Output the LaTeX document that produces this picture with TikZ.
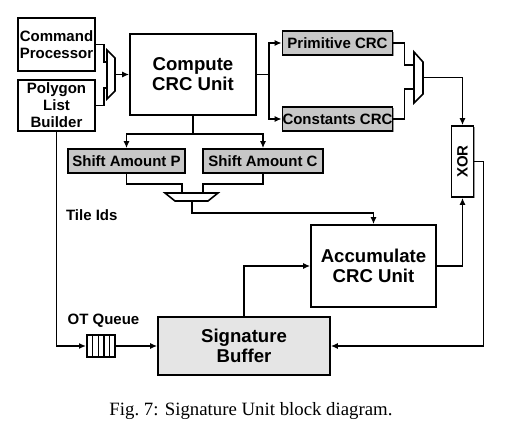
\documentclass[tikz,border=0pt]{standalone}
\usepackage{fontspec}
\setmainfont{Liberation Serif}
\setsansfont{Liberation Sans}
\usetikzlibrary{arrows.meta,shadows}
\newcommand*{\bigf}{\fontsize{9.3}{10}\selectfont\sffamily\bfseries}
\newcommand*{\smf}{\fontsize{7.5}{8.5}\selectfont\sffamily\bfseries}

\begin{document}
\begin{tikzpicture}[x=0.5pt,y=-0.5pt,
  blk/.style={draw,line width=0.8pt,fill=white,align=center,inner sep=0pt,
    drop shadow={shadow xshift=0.6pt,shadow yshift=-0.6pt,fill=black!40,opacity=1}},
  grayblk/.style={blk,fill=black!22},
  wire/.style={line width=0.8pt},
  conn/.style={wire,-{Latex[length=3.5pt,width=3pt]}}]
\useasboundingbox (0,0) rectangle (509,428);

% blocks
\node[blk,font=\smf,minimum width=38.5pt,minimum height=26.5pt] (cmd) at (56.5,44.5) {Command\\Processor};
\node[blk,font=\smf,minimum width=38.5pt,minimum height=25.5pt] (plb) at (56.5,105.5) {Polygon\\List\\Builder};
\node[blk,font=\bigf,minimum width=63pt,minimum height=40.5pt] (ccu) at (193,74.5) {Compute\\CRC Unit};
\node[grayblk,font=\smf,minimum width=55pt,minimum height=12pt] (prim) at (337.5,43) {Primitive CRC};
\node[grayblk,font=\smf,minimum width=55pt,minimum height=12pt] (cons) at (337.5,119) {Constants CRC};
\node[grayblk,font=\smf,minimum width=58.5pt,minimum height=12pt] (shp) at (126.5,161) {Shift Amount P};
\node[grayblk,font=\smf,minimum width=60pt,minimum height=12pt] (shc) at (263,161) {Shift Amount C};
\node[blk,font=\bigf,minimum width=62.5pt,minimum height=41pt] (acc) at (373.5,266) {Accumulate\\CRC Unit};
\node[blk,font=\smf,minimum width=11pt,minimum height=35.5pt] (xor) at (462.5,161.5) {\rotatebox{90}{XOR}};
\node[grayblk,fill=black!10,font=\bigf,minimum width=86pt,minimum height=29pt] (sig) at (244,346) {Signature\\Buffer};
\node[draw,line width=0.8pt,minimum width=14.2pt,minimum height=11pt,inner sep=0pt] (queue) at (101,346) {};
\foreach \i in {1,...,4}
  \draw[line width=0.6pt] ({86.8+5.7*\i},335) -- ({86.8+5.7*\i},357);

% muxes
\draw[wire] (107,50) -- (115,58) -- (115,91) -- (107,99) -- cycle;
\coordinate (m1a) at (107,62);
\coordinate (m1b) at (107,88);
\coordinate (m1o) at (115,74.5);
\draw[wire] (414,52) -- (423,62) -- (423,94) -- (414,103) -- cycle;
\coordinate (m3a) at (414,65);
\coordinate (m3b) at (414,89);
\coordinate (m3o) at (423,77.5);
\draw[wire] (165,193) -- (218,193) -- (208,201) -- (175,201) -- cycle;
\coordinate (m2a) at (182,193);
\coordinate (m2b) at (203,193);
\coordinate (m2o) at (192,201);

% labels
\node[font=\smf,anchor=west] (tileids) at (59,215) {Tile Ids};
\node[font=\smf] (otq) at (103.5,321) {OT Queue};
\node[font=\fontsize{9.4}{11}\selectfont] (cap) at (251,411) {Fig.~7: Signature Unit block diagram.};

% connections
\draw[wire] (cmd.east) -- ++(8,0) |- (m1a);
\draw[wire] (plb.east) -- ++(8,0) |- (m1b);
\draw[conn] (m1o) -- (ccu.west);
\draw[conn] (ccu.east) -- ++(12,0) |- (prim.west);
\draw[conn] (ccu.east) -- ++(12,0) |- (cons.west);
\draw[wire] (prim.east) -- ++(11,0) |- (m3a);
\draw[wire] (cons.east) -- ++(11,0) |- (m3b);
\draw[conn] (m3o) -| (xor.north);
\draw[conn] (ccu.south) -- ++(0,18) -| (shp.north);
\draw[conn] (ccu.south) -- ++(0,18) -| (shc.north);
\draw[wire] (shp.south) -- ++(0,10) -| (m2a);
\draw[wire] (shc.south) -- ++(0,10) -| (m2b);
\draw[conn] (m2o) -- ++(0,12) -| (acc.north);
\draw[conn] (acc.east) -| (xor.south);
\draw[conn] (xor.east) -- ++(9,0) |- (sig.east);
\draw[conn] (sig.north) |- (acc.west);
\draw[conn] (plb.south) |- (queue.west);
\draw[conn] (queue.east) -- (sig.west);
\end{tikzpicture}
\end{document}
